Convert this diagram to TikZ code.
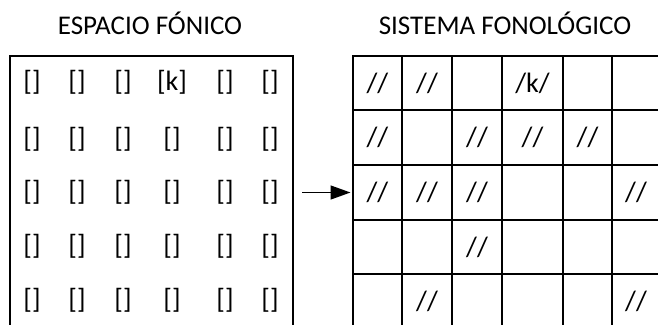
\documentclass[tikz,border=0pt]{standalone}
\usepackage{fontspec}
\setmainfont{Carlito}
\usetikzlibrary{arrows.meta}

\begin{document}
\begin{tikzpicture}[x=1pt, y=-1pt,
  title/.style={font=\fontsize{27}{32}\selectfont, inner sep=0pt, anchor=base},
  sound/.style={font=\fontsize{28}{33}\selectfont, inner sep=0pt},
  frame/.style={draw, line width=2pt, inner sep=0pt, anchor=north west},
  arr/.style={-{Triangle[length=20pt, width=14pt]}, line width=1.4pt},
]
\clip (0,0) rectangle (658,324);

% titles
\node[title] (espacio) at (150,34) {ESPACIO FÓNICO};
\node[title] (sistema) at (505,34) {SISTEMA FONOLÓGICO};

% phonic space (open at the bottom)
\node[frame, minimum width=283pt, minimum height=300pt] (espbox) at (9,55) {};
\foreach \y [count=\r] in {82,139,192,246,300}
  \foreach \x [count=\c] in {32,77,123,172,225,270}
    \node[sound] (esp-\r-\c) at (\x,\y) {\ifnum\r\c=14 [k]\else []\fi};

% phonological system grid
\foreach \ya/\yb [count=\r] in {55/109,109/164,164/219,219/273,273/328}
  \foreach \xa/\xb [count=\c] in {352/401,401/451,451/501,501/562,562/611,611/659}
    \node[frame, minimum width=\xb-\xa, minimum height=\yb-\ya] (fon-\r-\c) at (\xa,\ya) {};

\foreach \r/\c/\t in {1/1/{//},1/2/{//},1/4/{/k/},
                      2/1/{//},2/3/{//},2/4/{//},2/5/{//},
                      3/1/{//},3/2/{//},3/3/{//},3/6/{//},
                      4/3/{//},
                      5/2/{//},5/6/{//}}
  \node[sound] (txt-\r-\c) at (fon-\r-\c) {\t};

\coordinate (arrfrom) at (302,0 |- fon-3-1);
\draw[arr, shorten >=1.5pt] (arrfrom) -- (fon-3-1.west);
\end{tikzpicture}
\end{document}
